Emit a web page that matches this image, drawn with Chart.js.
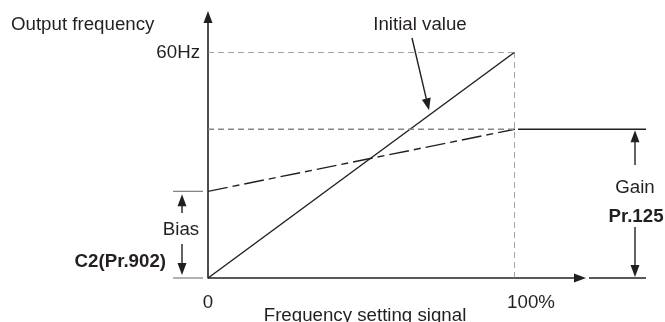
<!DOCTYPE html>
<html>
<head>
<meta charset="utf-8">
<script src="https://cdn.jsdelivr.net/npm/chart.js@4.4.1/dist/chart.umd.min.js"></script>
<style>
  html, body { margin: 0; padding: 0; background: #fff; }
  #wrap { width: 665px; height: 322px; }
</style>
</head>
<body>
<div id="wrap"><canvas id="chart" width="665" height="322"></canvas></div>
<script>
// frequency setting signal (%) -> output frequency (Hz)
const signalPoints = [0, 100];
const initialValues = [0, 60];
const biasGainValues = [23, 39.5];
const maxSignal = 100;
const maxFrequency = 60;
const xTickValues = [0, 100];
const xTickLabels = ['0', '100%'];
const yTickValues = [60];
const yTickLabels = ['60Hz'];

const INK = '#231f20';
const GREY = '#858585';
const FONT = '18.7px "Liberation Sans", Arial, sans-serif';
const BOLD = 'bold 18.7px "Liberation Sans", Arial, sans-serif';

function toPoints(xs, ys) {
    return xs.map((v, i) => ({ x: v, y: ys[i] }));
}

// draw a line with a filled arrow head at the (x2, y2) end
function arrow(ctx, x1, y1, x2, y2) {
    const len = 12, half = 4.5;
    const a = Math.atan2(y2 - y1, x2 - x1);
    ctx.beginPath();
    ctx.moveTo(x1, y1);
    ctx.lineTo(x2 - Math.cos(a) * (len - 2), y2 - Math.sin(a) * (len - 2));
    ctx.stroke();
    ctx.beginPath();
    ctx.moveTo(x2, y2);
    ctx.lineTo(x2 - Math.cos(a) * len - Math.sin(a) * half, y2 - Math.sin(a) * len + Math.cos(a) * half);
    ctx.lineTo(x2 - Math.cos(a) * len + Math.sin(a) * half, y2 - Math.sin(a) * len - Math.cos(a) * half);
    ctx.closePath();
    ctx.fill();
}

function line(ctx, x1, y1, x2, y2) {
    ctx.beginPath();
    ctx.moveTo(x1, y1);
    ctx.lineTo(x2, y2);
    ctx.stroke();
}

function text(ctx, str, x, y, align, font) {
    ctx.font = font || FONT;
    ctx.textAlign = align || 'center';
    ctx.textBaseline = 'alphabetic';
    ctx.fillText(str, x, y);
}

const diagramPlugin = {
    id: 'diagram',
    beforeDatasetsDraw(chart) {
        const ctx = chart.ctx;
        const xs = chart.scales.x, ys = chart.scales.y;
        const x0 = xs.getPixelForValue(0), y0 = ys.getPixelForValue(0);
        ctx.save();
        ctx.strokeStyle = INK;
        ctx.fillStyle = INK;
        ctx.lineWidth = 1.6;
        // axes
        arrow(ctx, x0, y0 + 0.5, x0, 11);
        arrow(ctx, x0, y0, 586, y0);
        ctx.restore();
    },
    afterDatasetsDraw(chart) {
        const ctx = chart.ctx;
        const xs = chart.scales.x, ys = chart.scales.y;
        const x0 = xs.getPixelForValue(0), y0 = ys.getPixelForValue(0);
        const xEnd = xs.getPixelForValue(maxSignal);
        const yBias = ys.getPixelForValue(biasGainValues[0]);
        const yGain = ys.getPixelForValue(biasGainValues[1]);
        ctx.save();
        ctx.fillStyle = INK;
        ctx.strokeStyle = INK;

        // tick labels
        xTickValues.forEach((v, i) => {
            text(ctx, xTickLabels[i], xs.getPixelForValue(v) + (i ? 16 : 0), y0 + 30);
        });
        yTickValues.forEach((v, i) => {
            text(ctx, yTickLabels[i], x0 - 8, ys.getPixelForValue(v) + 6, 'right');
        });

        // axis titles
        text(ctx, 'Output frequency', 11, 30, 'left');
        text(ctx, 'Frequency setting signal', 365, y0 + 43);

        // initial value callout
        text(ctx, 'Initial value', 420, 30);
        ctx.lineWidth = 1.4;
        const tx = xs.getPixelForValue(72);
        const ty = ys.getPixelForValue(72 / maxSignal * maxFrequency);
        arrow(ctx, 412, 38, tx, ty - 5);

        // bias marker
        ctx.strokeStyle = GREY;
        ctx.lineWidth = 1.3;
        line(ctx, 173, yBias, x0 - 5, yBias);
        line(ctx, 173, y0, x0 - 5, y0);
        ctx.strokeStyle = INK;
        ctx.lineWidth = 1.4;
        arrow(ctx, 182, 213, 182, yBias + 3);
        arrow(ctx, 182, 244, 182, y0 - 3);
        text(ctx, 'Bias', 181, 235);
        text(ctx, 'C2(Pr.902)', 166, 267, 'right', BOLD);

        // gain marker
        ctx.lineWidth = 1.4;
        line(ctx, xEnd + 3, yGain, 646, yGain);
        line(ctx, 589, y0, 646, y0);
        arrow(ctx, 635, 165, 635, yGain + 1);
        arrow(ctx, 635, 227, 635, y0 - 1);
        text(ctx, 'Gain', 635, 193);
        text(ctx, 'Pr.125', 636, 222, 'center', BOLD);
        ctx.restore();
    }
};

const refStyle = {
    borderColor: GREY,
    borderWidth: 1.5,
    borderDash: [6, 4],
    pointRadius: 0,
    fill: false
};

new Chart(document.getElementById('chart'), {
    type: 'line',
    data: {
        datasets: [
            Object.assign({ data: toPoints([0, maxSignal], [maxFrequency, maxFrequency]) }, refStyle),
            Object.assign({ data: toPoints([0, maxSignal], [biasGainValues[1], biasGainValues[1]]) }, refStyle),
            Object.assign({ data: toPoints([maxSignal, maxSignal], [0, maxFrequency]) }, refStyle),
            {
                label: 'Initial value',
                data: toPoints(signalPoints, initialValues),
                borderColor: INK,
                borderWidth: 1.4,
                pointRadius: 0
            },
            {
                label: 'Bias / Gain',
                data: toPoints(signalPoints, biasGainValues),
                borderColor: INK,
                borderWidth: 1.4,
                borderDash: [20, 5, 7, 5],
                pointRadius: 0
            }
        ]
    },
    options: {
        responsive: false,
        animation: false,
        layout: { padding: { left: 208, right: 150, top: 52, bottom: 44 } },
        plugins: { legend: { display: false }, tooltip: { enabled: false } },
        scales: {
            x: { type: 'linear', min: 0, max: maxSignal, display: false },
            y: { type: 'linear', min: 0, max: maxFrequency, display: false }
        }
    },
    plugins: [diagramPlugin]
});
</script>
</body>
</html>
